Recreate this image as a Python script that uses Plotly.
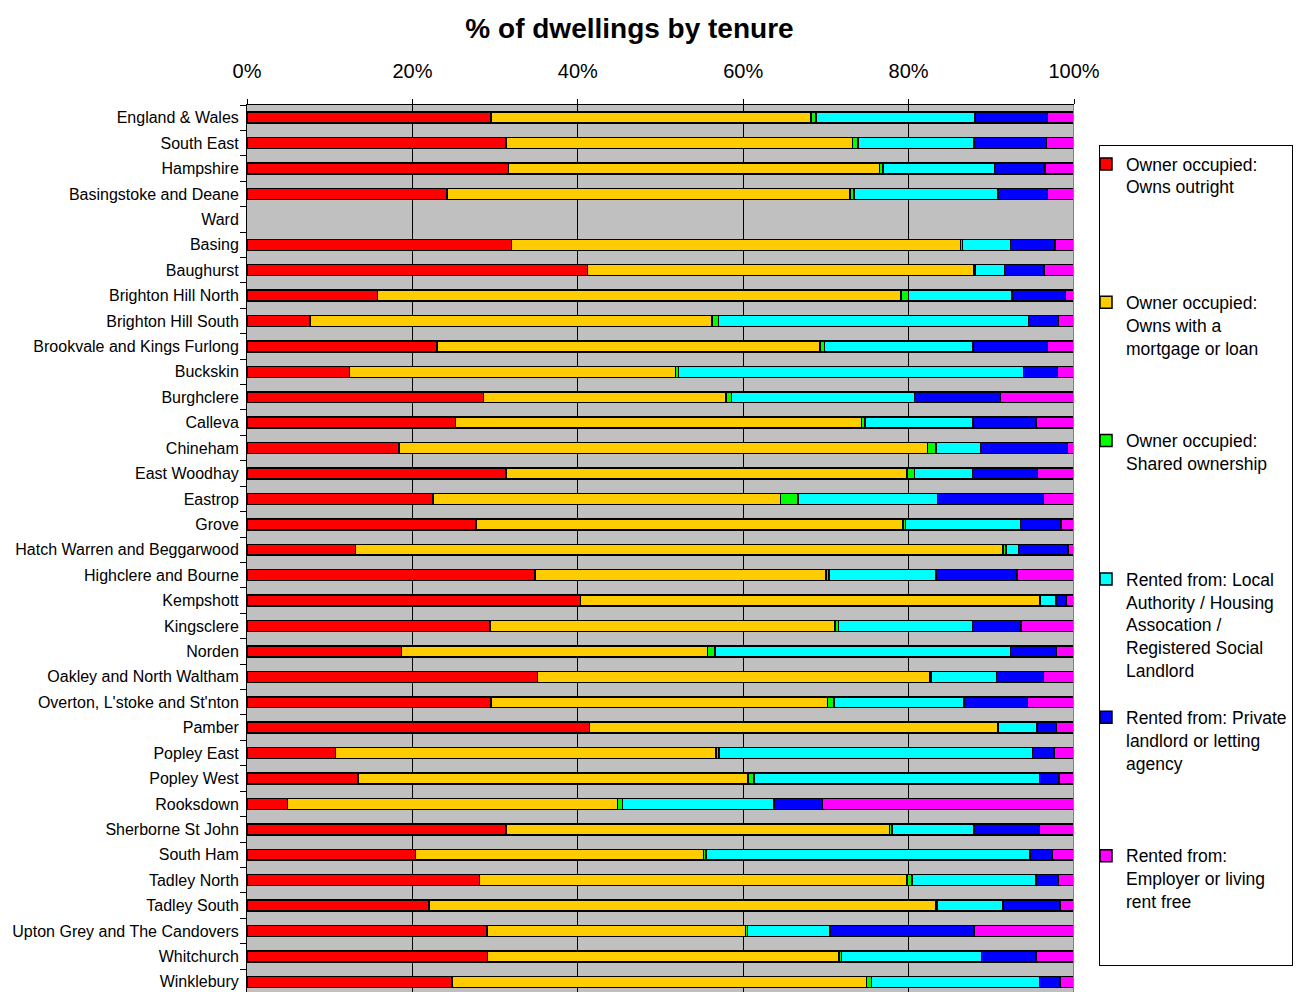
import plotly.graph_objects as go

categories = ["England & Wales", "South East", "Hampshire", "Basingstoke and Deane", "Ward",
              "Basing", "Baughurst", "Brighton Hill North", "Brighton Hill South",
              "Brookvale and Kings Furlong", "Buckskin", "Burghclere", "Calleva", "Chineham",
              "East Woodhay", "Eastrop", "Grove", "Hatch Warren and Beggarwood",
              "Highclere and Bourne", "Kempshott", "Kingsclere", "Norden",
              "Oakley and North Waltham", "Overton, L'stoke and St'nton", "Pamber",
              "Popley East", "Popley West", "Rooksdown", "Sherborne St John", "South Ham",
              "Tadley North", "Tadley South", "Upton Grey and The Candovers", "Whitchurch",
              "Winklebury"]

owns_outright = [29.5, 31.3, 31.6, 24.2, None, 32.0, 41.2, 15.8, 7.6, 23.0, 12.4, 28.6, 25.2, 18.4,
                 31.3, 22.5, 27.7, 13.1, 34.8, 40.3, 29.4, 18.7, 35.1, 29.5, 41.4, 10.7, 13.4,
                 4.9, 31.3, 20.4, 28.1, 22.0, 29.0, 29.1, 24.8]
owns_mortgage = [38.7, 41.9, 44.9, 48.7, None, 54.3, 46.7, 63.3, 48.6, 46.3, 39.4, 29.3, 49.1, 63.9,
                 48.5, 42.0, 51.6, 78.3, 35.2, 55.5, 41.7, 37.0, 47.5, 40.7, 49.4, 46.0, 47.2,
                 39.9, 46.4, 34.8, 51.7, 61.3, 31.3, 42.5, 50.1]
shared_own = [0.6, 0.7, 0.4, 0.5, None, 0.2, 0.1, 0.9, 0.8, 0.5, 0.4, 0.7, 0.4, 1.0,
              0.9, 2.1, 0.3, 0.4, 0.4, 0.1, 0.4, 0.9, 0.1, 0.8, 0.1, 0.4, 0.7,
              0.6, 0.3, 0.3, 0.6, 0.2, 0.2, 0.3, 0.6]
rented_social = [19.2, 14.0, 13.5, 17.4, None, 5.8, 3.6, 12.5, 37.5, 18.0, 41.7, 22.1, 13.1, 5.4,
                 7.0, 16.9, 13.9, 1.5, 12.9, 1.9, 16.2, 35.7, 7.9, 15.7, 4.6, 37.9, 34.5,
                 18.3, 9.9, 39.2, 15.0, 7.9, 10.0, 16.9, 20.3]
rented_private = [8.8, 8.8, 6.1, 6.0, None, 5.4, 4.8, 6.5, 3.6, 9.0, 4.1, 10.4, 7.6, 10.5,
                  7.9, 12.8, 4.9, 6.0, 9.8, 1.3, 5.9, 5.6, 5.7, 7.7, 2.4, 2.6, 2.4,
                  5.9, 7.9, 2.7, 2.7, 6.9, 17.4, 6.6, 2.5]
rented_employer = [3.2, 3.3, 3.5, 3.2, None, 2.3, 3.6, 1.0, 1.9, 3.2, 2.0, 8.9, 4.6, 0.8,
                   4.4, 3.7, 1.6, 0.7, 6.9, 0.9, 6.4, 2.1, 3.7, 5.6, 2.2, 2.4, 1.8,
                   30.4, 4.2, 2.6, 1.9, 1.7, 12.1, 4.6, 1.7]

series = [
    ("Owner occupied:<br>Owns outright", owns_outright, "#FF0000"),
    ("Owner occupied:<br>Owns with a<br>mortgage or loan", owns_mortgage, "#FFCC00"),
    ("Owner occupied:<br>Shared ownership", shared_own, "#00FF00"),
    ("Rented from: Local<br>Authority / Housing<br>Assocation /<br>Registered Social<br>Landlord",
     rented_social, "#00FFFF"),
    ("Rented from: Private<br>landlord or letting<br>agency", rented_private, "#0000FF"),
    ("Rented from:<br>Employer or living<br>rent free", rented_employer, "#FF00FF"),
]

FONT = "Liberation Sans Narrow, Arial Narrow, Liberation Sans, Arial, sans-serif"

# page body has an 8px margin, so the figure is drawn 8px in from the corner
W, H, OFF = 1294, 984, 8

fig = go.Figure()
for i, (name, vals, col) in enumerate(series):
    nlines = name.count("<br>") + 1
    padded = name + "<br> " * (5 - nlines)
    fig.add_trace(go.Bar(
        y=categories, x=vals, orientation="h", name=padded,
        legendgroup=f"g{i}",
        marker=dict(color=col, line=dict(color="black", width=1.5)),
    ))

fig.update_layout(
    barmode="stack",
    bargap=0.57,
    width=W, height=H,
    margin=dict(l=247 - OFF, r=W - (1074 - OFF), t=105 - OFF, b=0, autoexpand=False),
    paper_bgcolor="white",
    plot_bgcolor="#C0C0C0",
    font=dict(family=FONT, color="black"),
    title=dict(text="<b>% of dwellings by tenure</b>", font=dict(size=28, family=FONT),
               x=(629.5 - OFF) / W, xref="container", xanchor="center",
               y=1 - (28 - OFF) / H, yref="container", yanchor="middle"),
    legend=dict(
        xref="container", yref="container",
        x=(1099 - OFF) / W, y=1 - (145 - OFF) / H, xanchor="left", yanchor="top",
        bgcolor="white", bordercolor="black", borderwidth=1,
        font=dict(size=17.5, family=FONT),
        valign="top", traceorder="grouped", tracegroupgap=21.6,
        itemwidth=30, indentation=-14, maxheight=900,
    ),
    showlegend=True,
)

fig.update_xaxes(
    side="top", range=[0, 100], tickvals=[0, 20, 40, 60, 80, 100],
    ticktext=["0%", "20%", "40%", "60%", "80%", "100%"],
    tickfont=dict(size=20), ticks="outside", ticklen=5, tickcolor="black",
    showline=True, linecolor="black", linewidth=1,
    showgrid=True, gridcolor="black", gridwidth=1, zeroline=False,
    ticklabelstandoff=13, fixedrange=True, automargin=False,
)
fig.update_yaxes(
    type="category", categoryorder="array", categoryarray=categories,
    range=[34.4, -0.5], tickfont=dict(size=16),
    ticks="outside", ticklen=6, tickcolor="black", tickson="boundaries",
    showline=True, linecolor="black", linewidth=1, mirror=False,
    showgrid=False, ticklabelstandoff=4, fixedrange=True, automargin=False,
)

fig.add_shape(type="line", xref="x", yref="paper", x0=100, x1=100, y0=0, y1=1,
              line=dict(color="#808080", width=2), layer="above")

fig.write_html("out.html")
